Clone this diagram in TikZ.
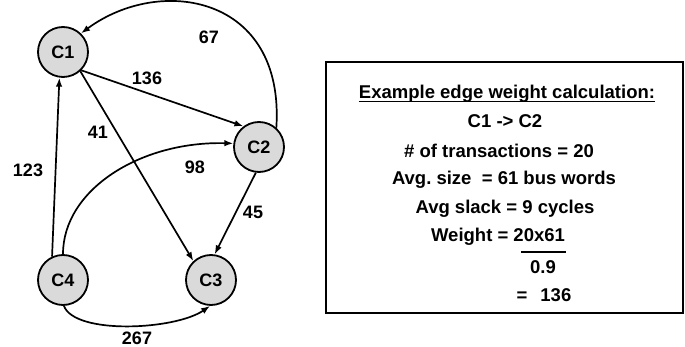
\documentclass[tikz,border=0pt]{standalone}
\usepackage{fontspec}
\setmainfont{Liberation Sans}
\usetikzlibrary{arrows.meta}
\definecolor{coregray}{RGB}{218,218,218}
\begin{document}
\begin{tikzpicture}[x=1pt,y=-1pt,
  core/.style={circle,draw,line width=1.8pt,fill=coregray,minimum size=50pt,
    inner sep=0pt,font=\fontsize{18}{20}\selectfont\bfseries},
  wlabel/.style={inner sep=0pt,font=\fontsize{18}{20}\selectfont\bfseries},
  edge/.style={line width=1.7pt,-{Latex[length=9pt,width=6.5pt]}},
  calcline/.style={anchor=base,inner sep=0pt,font=\fontsize{18.5}{20}\selectfont\bfseries}]
\useasboundingbox (0,0) rectangle (685,347);

% cores of the communication graph
\node[core] (C1) at (63,52) {C1};
\node[core] (C2) at (259,147) {C2};
\node[core] (C3) at (211,280) {C3};
\node[core] (C4) at (63,280) {C4};

% weighted edges
\draw[edge] (C2.48) .. controls (285,-5) and (160,-25) .. (C1.46);
\draw[edge] (C1.-45) -- (C2.127);
\draw[edge] (C1.-48) -- (C3.133);
\draw[edge] (C4.115) -- (C1.-98);
\draw[edge] (C4.90) .. controls (63,190) and (140,141) .. (C2.172);
\draw[edge] (C2.-97) -- (C3.82);
\draw[edge] (C4.-88) .. controls (75,335) and (175,330) .. (C3.-92);

% edge weights
\node[wlabel] (w67)  at (209,37)  {67};
\node[wlabel] (w136) at (147,78)  {136};
\node[wlabel] (w41)  at (98,132)  {41};
\node[wlabel] (w123) at (28,170)  {123};
\node[wlabel] (w98)  at (195,167) {98};
\node[wlabel] (w45)  at (253,212) {45};
\node[wlabel] (w267) at (137,338) {267};

% worked example of one edge weight
\node[draw,line width=1.8pt,minimum width=357pt,minimum height=251pt,inner sep=0pt]
  (box) at (504.5,187.5) {};
\node[calcline] (title) at (507,99) {Example edge weight calculation:};
\draw[line width=1.5pt] ([yshift=-2.5pt]title.base west) -- ([yshift=-2.5pt]title.base east);
\node[calcline] (arc)     at (505,127.5) {C1 -> C2};
\node[calcline] (ntr)     at (499,157.5) {\# of transactions = 20};
\node[calcline] (avgsize) at (504,184.5) {Avg.\ size\ \ = 61 bus words};
\node[calcline] (slack)   at (505,213.5) {Avg slack = 9 cycles};
\node[calcline] (weight)  at (498,241.5) {Weight = 20x61};
\coordinate (barl) at (521,252);
\coordinate (barr) at (566,252);
\draw[line width=1.8pt] (barl) -- (barr);
\node[calcline] (den)     at (543,273.5) {0.9};
\node[calcline] (result)  at (544,301.5) {=\hspace{13pt}136};
\end{tikzpicture}
\end{document}
